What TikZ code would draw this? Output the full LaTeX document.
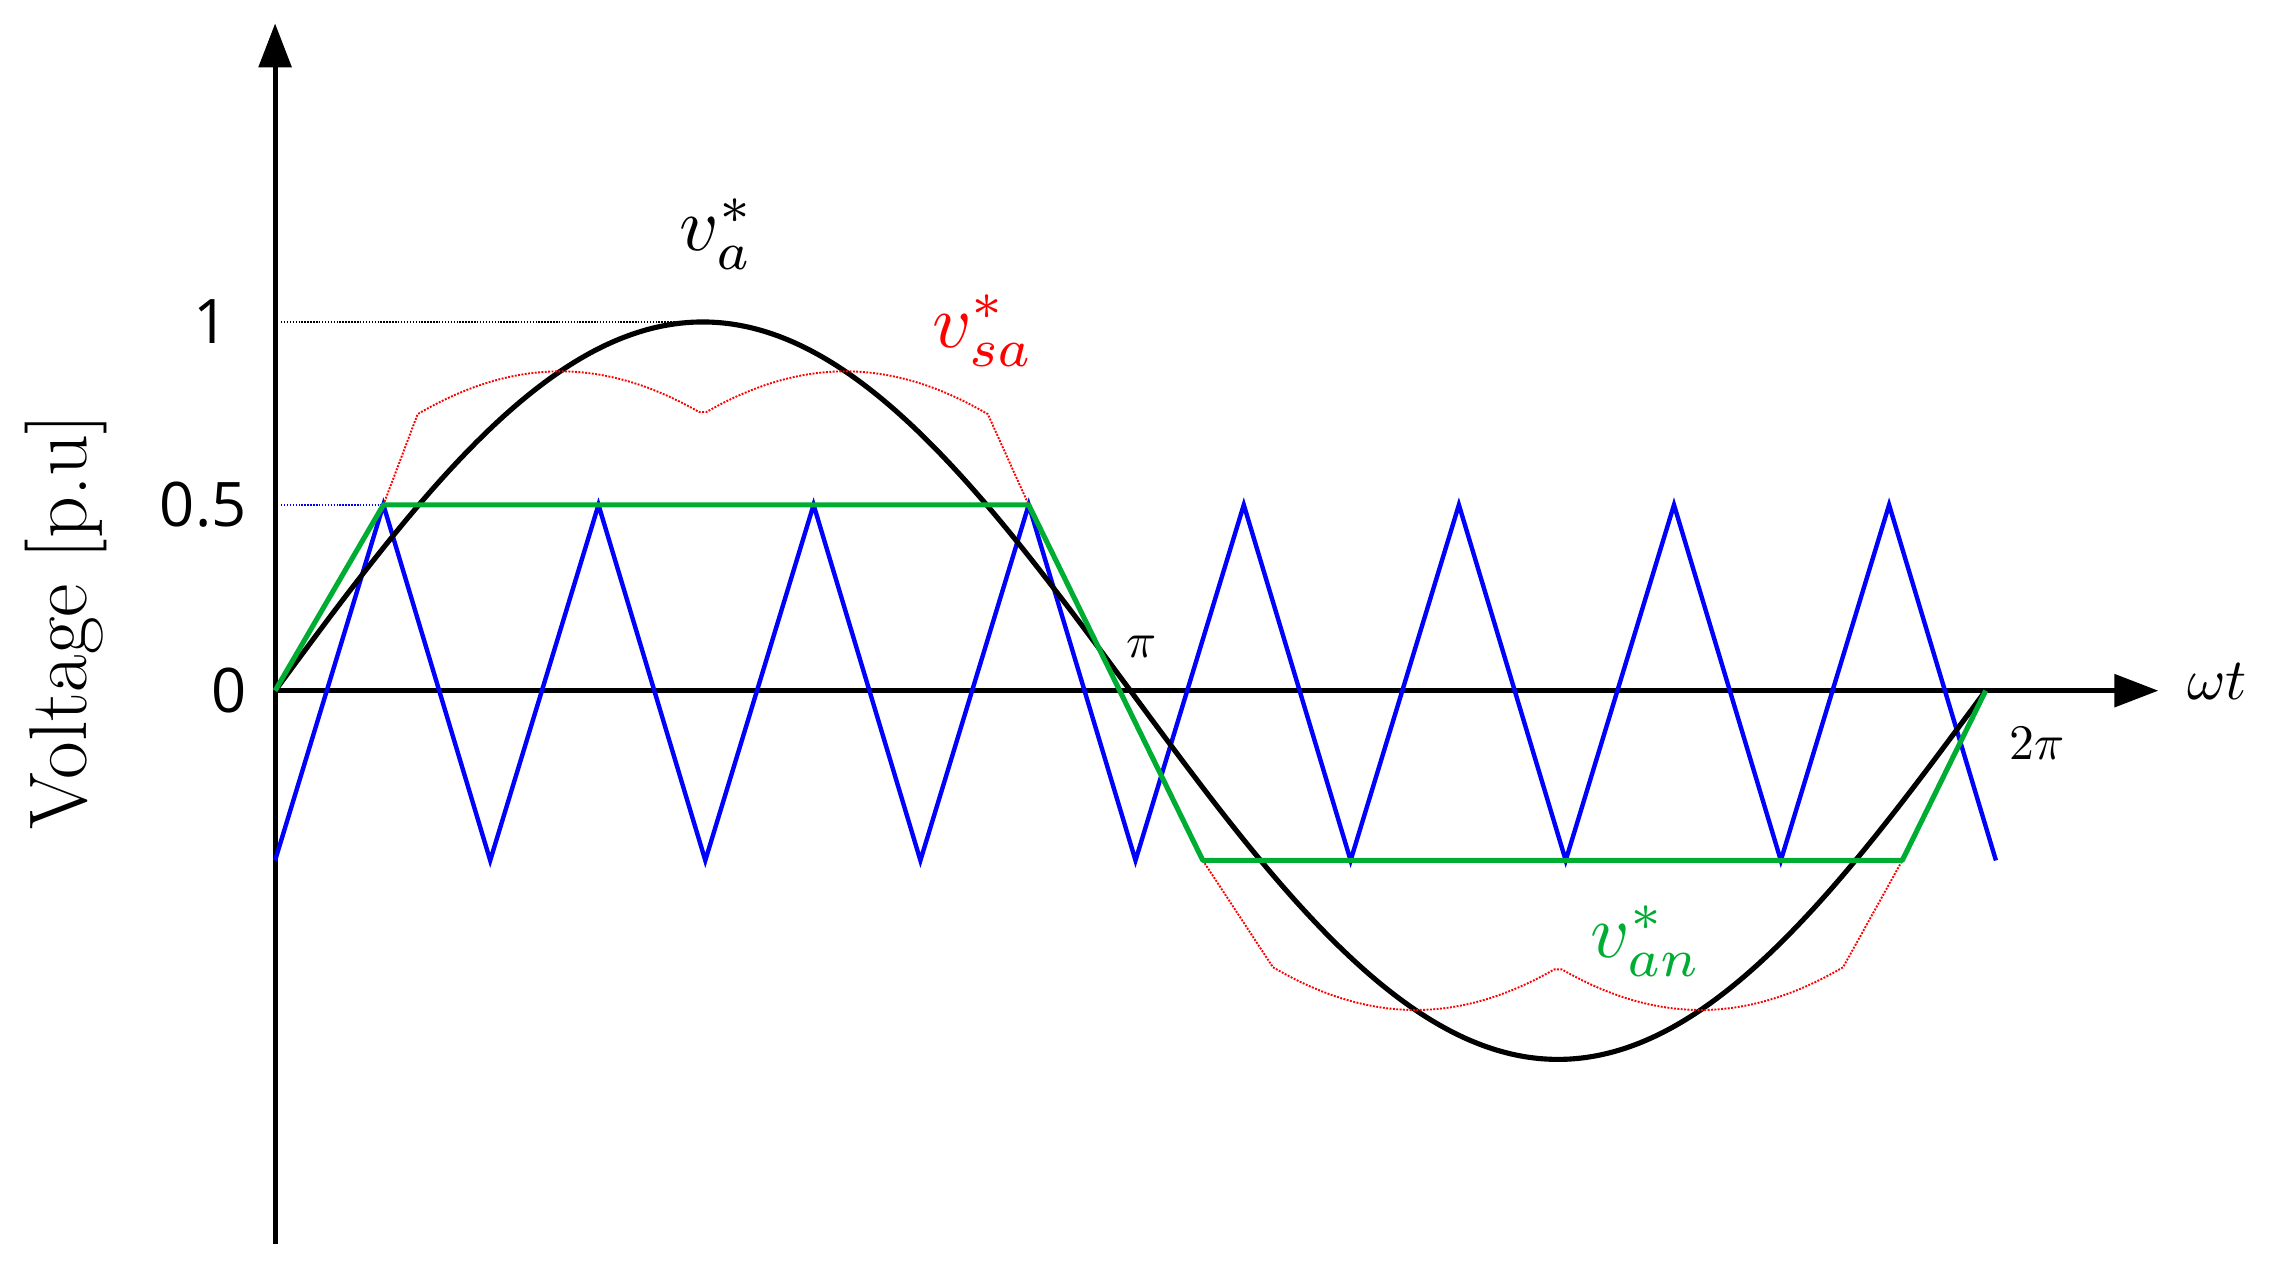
\documentclass[tikz,border=0pt]{standalone}
\usepackage{fontspec}
\newfontfamily\tick{Open Sans}
\usetikzlibrary{arrows.meta}
\tikzset{ax/.style={line width=3.5pt,-{Triangle[length=30pt,width=22pt]}},
lbl/.style={scale=5.2},
sm/.style={scale=3.4},
tk/.style={font=\tick\fontsize{42}{46}\selectfont}}
\begin{document}
\begin{tikzpicture}[x=1pt,y=-1pt]
\useasboundingbox (0,0) rectangle (1552,863);
\coordinate (o) at (188,472);
\coordinate (yt) at (188,16);
\coordinate (yb) at (188,850);
\coordinate (xt) at (1475,472);
\coordinate (g1) at (262,345);
\coordinate (g2) at (703,345);
\coordinate (g3) at (822,588);
\coordinate (g4) at (1300,588);
\coordinate (g5) at (1357,472);
\draw[line width=3.5pt] (yb) -- (o);
\draw[ax] (o) -- (yt);
\draw[ax] (o) -- (xt);
% dotted guides
\draw[densely dotted,line width=1pt] (192,220) -- (480,220);
\draw[densely dotted,blue,line width=1pt] (192,345) -- (g1);
% carrier
\draw[blue,line width=3pt,line join=miter] (188,588)
\foreach \i in {0,...,7}{ -- ({262+147*\i},345) -- ({335+147*\i},588)};
% sine
\draw[black,line width=3.5pt] plot[domain=0:360,samples=120,smooth] ({188+\x/360*1169},{472-252*sin(\x)});
% red dotted min-max
\draw[red,densely dotted,line width=1.3pt] (g1) -- plot[domain=30:150,samples=80] ({188+\x/360*1169},{472-252*(sin(\x)-(max(sin(\x),sin(\x-120),sin(\x+120))+min(sin(\x),sin(\x-120),sin(\x+120)))/2)}) -- (g2);
\draw[red,densely dotted,line width=1.3pt] (g3) -- plot[domain=210:330,samples=80] ({188+\x/360*1169},{472-252*(sin(\x)-(max(sin(\x),sin(\x-120),sin(\x+120))+min(sin(\x),sin(\x-120),sin(\x+120)))/2)}) -- (g4);
% green
\draw[green!60!black!80!cyan,line width=3.5pt,line join=round] (o) -- (g1) -- (g2) -- (g3) -- (g4) -- (g5);
% labels
\node[tk,anchor=east] (t1) at (160,220) {1};
\node[tk,anchor=east] (t05) at (172,345) {0.5};
\node[tk,anchor=east] (t0) at (172,472) {0};
\node[font=\fontsize{56}{60}\selectfont,rotate=90] (yl) at (45,425) {Voltage [p.u]};
\node[lbl] (va) at (490,160) {$v_a^*$};
\node[lbl,red] (vsa) at (672,226) {$v_{sa}^*$};
\node[lbl,green!60!black!80!cyan] (van) at (1125,643) {$v_{an}^*$};
\node[sm] (pi) at (780,442) {$\pi$};
\node[sm] (tpi) at (1392,508) {$2\pi$};
\node[scale=4] (wt) at (1515,466) {$\omega t$};
\end{tikzpicture}
\end{document}
